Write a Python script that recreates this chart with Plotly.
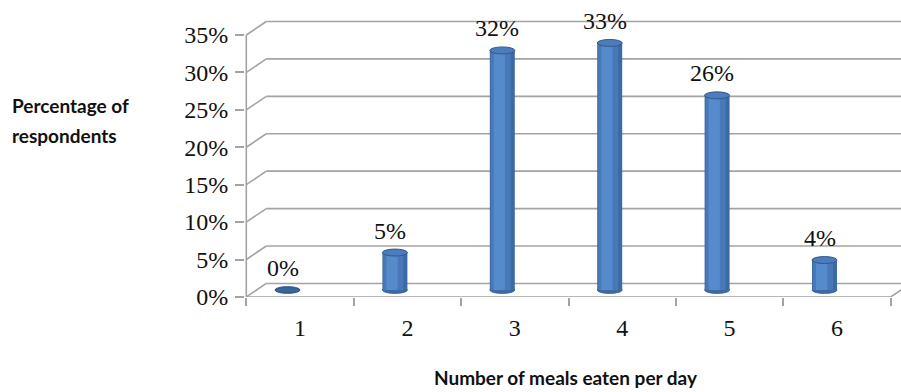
import plotly.graph_objects as go

# ---------------- data ----------------
categories = ['1', '2', '3', '4', '5', '6']
values = [0, 5, 32, 33, 26, 4]
value_labels = ['0%', '5%', '32%', '33%', '26%', '4%']
y_ticks = [0, 5, 10, 15, 20, 25, 30, 35]
y_tick_text = ['0%', '5%', '10%', '15%', '20%', '25%', '30%', '35%']
y_title_lines = ['Percentage of', 'respondents']
x_title = 'Number of meals eaten per day'

# ---------------- geometry ----------------
W, H = 901, 392
L, T, B, R = 245, 0, 95, 0
plot_w = W - L - R
plot_h = H - T - B
cat_px = 107.4          # pixels per category
pct_px = 7.486          # pixels per percentage point
front_c0 = 300.0        # pixel x of first category (front plane)
bar_c0 = 287.5          # pixel x of first bar (mid depth)
bar_base = 290.0        # pixel y of bar base (mid depth)
depth_dx = 20.0 / cat_px
depth_dy = 13.5 / pct_px
bar_w = 25.0 / cat_px
ell_h = 7.0 / pct_px

x_min = -(front_c0 - L) / cat_px
x_max = x_min + plot_w / cat_px
x2_min = -(bar_c0 - L) / cat_px
x2_max = x2_min + plot_w / cat_px
y_min = -((H - B) - (T + plot_h)) / pct_px
y_max = plot_h / pct_px
y2_min = -((T + plot_h) - bar_base) / pct_px
y2_max = y2_min + plot_h / pct_px

grid_col = '#A3A3A3'
fig = go.Figure()

# cylinder body (layers of shading)
layers = [
    (bar_w, -bar_w / 2, '#3C6AA3'),
    (bar_w * 0.80, -bar_w * 0.46, '#4878B8'),
    (bar_w * 0.45, -bar_w * 0.34, '#568BCB'),
]
for w, off, col in layers:
    fig.add_trace(go.Bar(
        x=categories, y=values, width=[w] * len(values), offset=[off] * len(values),
        marker=dict(color=col, line=dict(width=0)),
        xaxis='x2', yaxis='y2', hoverinfo='skip', showlegend=False))

shapes = []
# back wall gridlines + left wall diagonals
for v in y_ticks:
    shapes.append(dict(type='line', xref='x', yref='y', layer='below',
                       x0=-0.5, y0=v, x1=-0.5 + depth_dx, y1=v + depth_dy,
                       line=dict(color=grid_col, width=1.6)))
    shapes.append(dict(type='line', xref='x', yref='y', layer='below',
                       x0=-0.5 + depth_dx, y0=v + depth_dy, x1=x_max + 1, y1=v + depth_dy,
                       line=dict(color=grid_col, width=1.6)))
# front vertical axis line
shapes.append(dict(type='line', xref='x', yref='y', layer='below',
                   x0=-0.5, y0=0, x1=-0.5, y1=y_ticks[-1],
                   line=dict(color=grid_col, width=1.6)))
# floor front edge + right diagonal
shapes.append(dict(type='line', xref='x', yref='y', layer='below',
                   x0=-0.5, y0=0, x1=len(categories) - 0.5, y1=0,
                   line=dict(color=grid_col, width=1.6)))
shapes.append(dict(type='line', xref='x', yref='y', layer='below',
                   x0=len(categories) - 0.5, y0=0, x1=len(categories) - 0.5 + depth_dx, y1=depth_dy,
                   line=dict(color=grid_col, width=1.6)))

# cylinder bottoms and tops
for i, v in enumerate(values):
    shapes.append(dict(type='circle', xref='x2', yref='y2', layer='below',
                       x0=i - bar_w / 2, x1=i + bar_w / 2, y0=-ell_h / 2, y1=ell_h / 2,
                       fillcolor='#3C6AA3', line=dict(color='#365F94', width=0.8)))
    top_h = ell_h if v > 0 else ell_h * 0.7
    shapes.append(dict(type='circle', xref='x2', yref='y2', layer='above',
                       x0=i - bar_w / 2, x1=i + bar_w / 2, y0=v - top_h / 2, y1=v + top_h / 2,
                       fillcolor='#4B7CBB' if v > 0 else '#3A6699',
                       line=dict(color='#33598C', width=1)))

annotations = []
for i, (v, t) in enumerate(zip(values, value_labels)):
    annotations.append(dict(x=i, y=v, xref='x2', yref='y2', text=t, showarrow=False,
                            xshift=-5, yshift=22, yanchor='middle',
                            font=dict(family='Liberation Serif', size=24, color='#111111')))

title_font = dict(family='Lato', size=19, color='#111111', weight='bold')
annotations.append(dict(x=10, y=105, xref='paper', yref='paper', text=y_title_lines[0],
                        showarrow=False, xanchor='left', yanchor='middle', font=title_font))
annotations.append(dict(x=10, y=135, xref='paper', yref='paper', text=y_title_lines[1],
                        showarrow=False, xanchor='left', yanchor='middle', font=title_font))
annotations.append(dict(x=566, y=377, xref='paper', yref='paper', text=x_title,
                        showarrow=False, xanchor='center', yanchor='middle', font=title_font))

# convert pixel positions of the title annotations to paper coords
for a in annotations:
    if a['xref'] == 'paper':
        a['x'] = (a['x'] - L) / plot_w
        a['y'] = 1 - (a['y'] - T) / plot_h

fig.update_layout(
    width=W, height=H,
    margin=dict(l=L, r=R, t=T, b=B, pad=0),
    paper_bgcolor='white', plot_bgcolor='rgba(0,0,0,0)',
    barmode='overlay', showlegend=False,
    shapes=shapes, annotations=annotations,
    xaxis=dict(type='category', categoryorder='array', categoryarray=categories,
               range=[x_min, x_max], tickson='boundaries', ticks='outside', ticklen=8,
               tickcolor=grid_col, tickwidth=1.6, showgrid=False, zeroline=False, showline=False,
               tickfont=dict(family='Liberation Serif', size=24, color='#111111'),
               ticklabelstandoff=14, fixedrange=True),
    yaxis=dict(range=[y_min - 0.01, y_max], tickmode='array', tickvals=y_ticks, ticktext=y_tick_text,
               ticks='outside', ticklen=9, tickcolor=grid_col, tickwidth=1.6,
               showgrid=False, zeroline=False, showline=False,
               tickfont=dict(family='Liberation Serif', size=24, color='#111111'),
               ticklabelstandoff=2, fixedrange=True),
    xaxis2=dict(type='category', categoryorder='array', categoryarray=categories,
                range=[x2_min, x2_max], overlaying='x', visible=False, fixedrange=True),
    yaxis2=dict(range=[y2_min, y2_max], overlaying='y', visible=False, fixedrange=True),
)

fig.write_html('out.html')
